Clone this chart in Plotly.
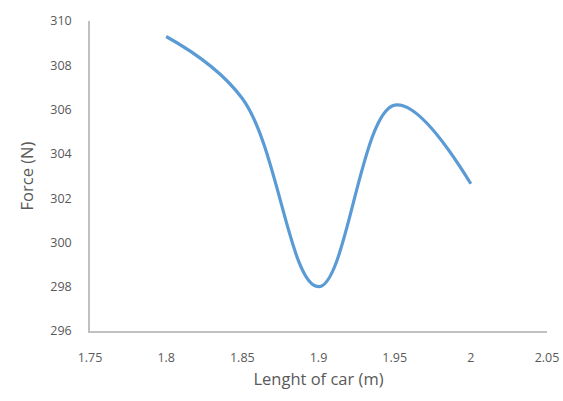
import plotly.graph_objects as go

lengths = [1.8, 1.85, 1.9, 1.95, 2.0]
forces = [309.3, 306.5, 298.0, 306.2, 302.65]

x_ticks = [1.75, 1.8, 1.85, 1.9, 1.95, 2.0, 2.05]
x_tick_text = ["1.75", "1.8", "1.85", "1.9", "1.95", "2", "2.05"]
y_ticks = [296, 298, 300, 302, 304, 306, 308, 310]

fig = go.Figure()
fig.add_trace(go.Scatter(
    x=lengths, y=forces, mode="lines",
    line=dict(color="#5b9bd5", width=3.2, shape="spline", smoothing=1.1),
    showlegend=False,
))

font_family = "Open Sans, sans-serif"
fig.update_layout(
    width=563, height=401,
    margin=dict(l=90, r=16, t=21, b=70, autoexpand=False),
    paper_bgcolor="white", plot_bgcolor="white",
    font=dict(family=font_family, color="#595959"),
)
fig.update_xaxes(
    range=[1.75, 2.05], tickvals=x_ticks, ticktext=x_tick_text,
    showgrid=False, zeroline=False, automargin=False,
    showline=True, linecolor="#c0c0c0", linewidth=1.5,
    ticks="", ticklabelstandoff=14, tickfont=dict(size=12.5, color="#595959"),
    title=dict(text="Lenght of car (m)", font=dict(size=16.5, color="#595959"), standoff=9),
)
fig.update_yaxes(
    range=[296, 310], tickvals=y_ticks,
    showgrid=False, zeroline=False, automargin=False,
    showline=True, linecolor="#c0c0c0", linewidth=1.5,
    ticks="", ticklabelstandoff=14, tickfont=dict(size=12.5, color="#595959"),
    title=dict(text="Force (N)", font=dict(size=16.5, color="#595959"), standoff=13),
)

fig.write_html("out.html")
